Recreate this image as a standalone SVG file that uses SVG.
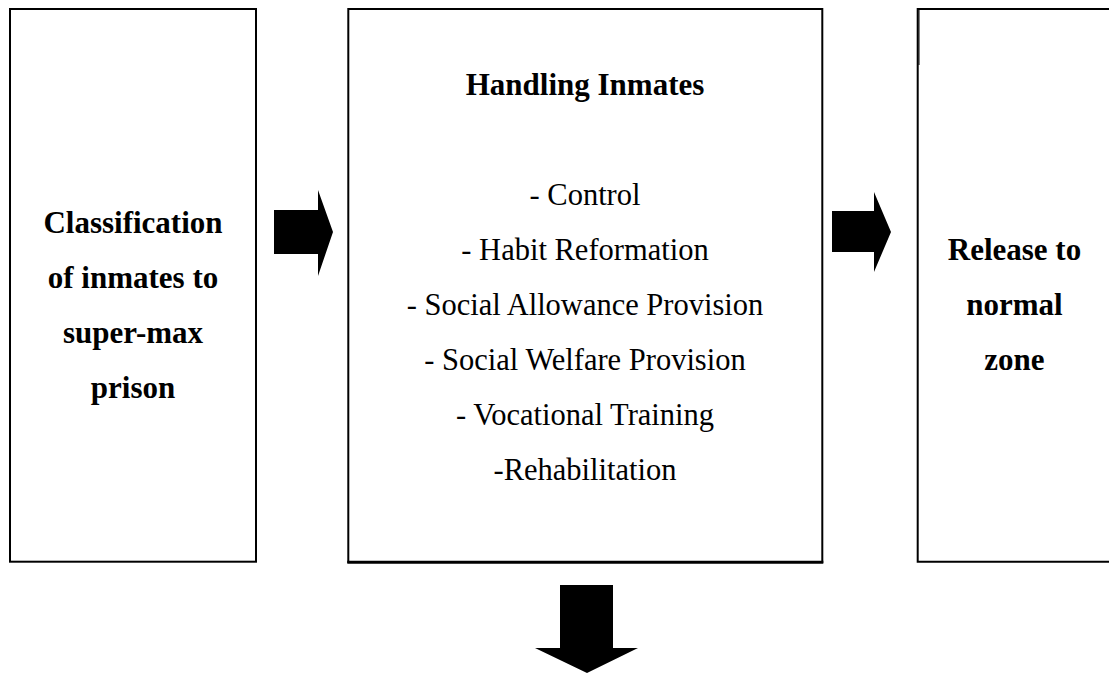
<svg xmlns="http://www.w3.org/2000/svg" width="1109" height="673" viewBox="0 0 1109 673">
  <style>
    .box { fill: #ffffff; stroke: #000000; stroke-width: 2; }
    .edge { fill: none; stroke: #000000; stroke-width: 2; }
    .arrow { fill: #000000; stroke: none; }
    .title { font-family: "Liberation Serif", "Times New Roman", serif; font-size: 31px; font-weight: bold; fill: #000000; text-anchor: middle; }
    .item { font-family: "Liberation Serif", "Times New Roman", serif; font-size: 30.5px; fill: #000000; text-anchor: middle; }
  </style>
  <rect x="0" y="0" width="1109" height="673" fill="#ffffff"/>

  <!-- Stage 1: classification -->
  <g id="node-classification">
    <rect class="box" x="10" y="9" width="246" height="552.7"/>
    <text class="title" x="133" y="233">Classification</text>
    <text class="title" x="133" y="288">of inmates to</text>
    <text class="title" x="133" y="343">super-max</text>
    <text class="title" x="133" y="398">prison</text>
  </g>

  <!-- Stage 2: handling inmates -->
  <g id="node-handling">
    <rect class="box" x="348.3" y="9" width="474" height="553"/>
    <line x1="347.3" y1="562.2" x2="823.3" y2="562.2" stroke="#000000" stroke-width="3"/>
    <text class="title" x="585" y="95">Handling Inmates</text>
    <text class="item" x="585" y="205">- Control</text>
    <text class="item" x="585" y="260">- Habit Reformation</text>
    <text class="item" x="585" y="315">- Social Allowance Provision</text>
    <text class="item" x="585" y="370">- Social Welfare Provision</text>
    <text class="item" x="585" y="425">- Vocational Training</text>
    <text class="item" x="585" y="480">-Rehabilitation</text>
  </g>

  <!-- Stage 3: release (box runs past the right edge) -->
  <g id="node-release">
    <path class="edge" d="M 1110 9 L 917.7 9 L 917.7 561.7 L 1110 561.7"/>
    <line x1="919" y1="9" x2="919" y2="65" stroke="#000000" stroke-width="1"/>
    <text class="title" x="1014.5" y="260">Release to</text>
    <text class="title" x="1014.5" y="315">normal</text>
    <text class="title" x="1014.5" y="370">zone</text>
  </g>

  <!-- Block arrows between stages -->
  <g id="connectors">
    <polygon class="arrow" points="274,210 318,210 318,190 333,232 318,276 318,254 274,254"/>
    <polygon class="arrow" points="832,211 874,211 874,192 891,232 874,272 874,252 832,252"/>
    <polygon class="arrow" points="560,585 613,585 613,648 638,648 587,673 535,648 560,648"/>
  </g>
</svg>
